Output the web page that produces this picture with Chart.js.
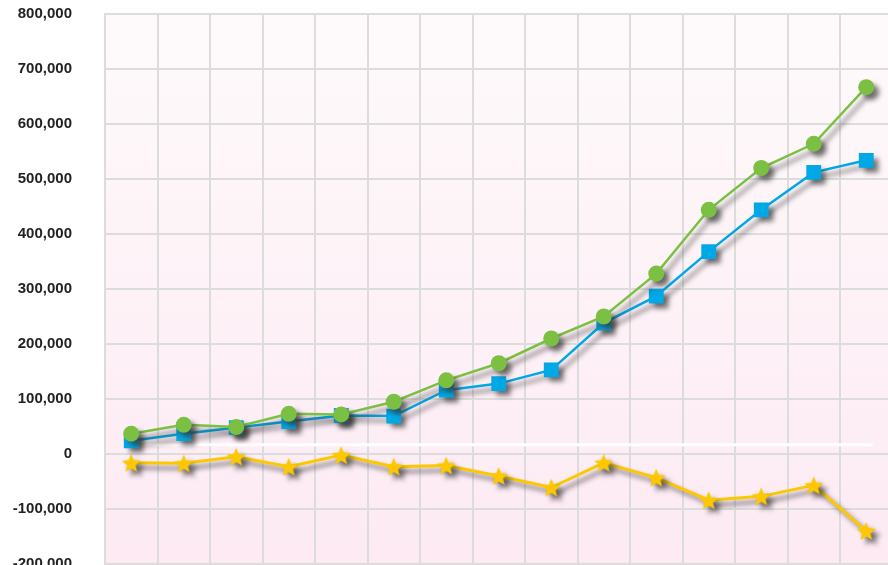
<!DOCTYPE html>
<html>
<head>
<meta charset="utf-8">
<script src="https://cdn.jsdelivr.net/npm/chart.js@4/dist/chart.umd.min.js"></script>
<style>
  html, body { margin: 0; padding: 0; background: #fff; overflow: hidden; }
  #wrap { width: 888px; height: 565px; overflow: hidden; }
</style>
</head>
<body>
<div id="wrap"><canvas id="chart" width="903" height="580"></canvas></div>
<script>
// chart data
const periods = ['1', '2', '3', '4', '5', '6', '7', '8', '9', '10', '11', '12', '13', '14', '15'];
const greenValues = [37000, 53000, 49000, 73000, 72000, 95000, 134000, 165000, 210000, 250000, 328000, 444000, 520000, 564000, 667000];
const blueValues = [24000, 37000, 48000, 59000, 70000, 69000, 116000, 128000, 153000, 238000, 287000, 368000, 444000, 512000, 534000];
const yellowValues = [-16000, -17000, -5000, -23000, -2000, -23000, -21000, -40000, -61000, -16000, -43000, -84000, -77000, -57000, -140000];
const yMin = -200000;
const yMax = 800000;
const yStep = 100000;
const whiteLineValue = 17000;

// filled five point star used as point style
function makeStar(size, color) {
    const c = document.createElement('canvas');
    c.width = size;
    c.height = size;
    const g = c.getContext('2d');
    const cx = size / 2, cy = size / 2 + 1;
    const outer = size / 2, inner = outer * 0.45;
    g.beginPath();
    for (let i = 0; i < 10; i++) {
        const r = i % 2 === 0 ? outer : inner;
        const a = -Math.PI / 2 + i * Math.PI / 5;
        const px = cx + r * Math.cos(a), py = cy + r * Math.sin(a);
        if (i === 0) g.moveTo(px, py); else g.lineTo(px, py);
    }
    g.closePath();
    g.fillStyle = color;
    g.fill();
    return c;
}

const plotBackground = {
    id: 'plotBackground',
    beforeDraw(chart) {
        const { ctx, chartArea: a } = chart;
        const grad = ctx.createLinearGradient(0, a.top, 0, a.bottom);
        grad.addColorStop(0, '#fefafb');
        grad.addColorStop(1, '#fdeaf3');
        ctx.save();
        ctx.fillStyle = grad;
        ctx.fillRect(a.left, a.top, a.right - a.left, a.bottom - a.top);
        ctx.restore();
    }
};

const whiteLine = {
    id: 'whiteLine',
    beforeDatasetsDraw(chart) {
        const { ctx, chartArea: a, scales } = chart;
        const y = scales.y.getPixelForValue(whiteLineValue);
        ctx.save();
        ctx.strokeStyle = '#ffffff';
        ctx.lineWidth = 3;
        ctx.beginPath();
        ctx.moveTo(a.left + 40, y);
        ctx.lineTo(a.right - 20, y);
        ctx.stroke();
        ctx.restore();
    }
};

// soft drop shadow under lines and markers
const dropShadow = {
    id: 'dropShadow',
    beforeDatasetsDraw(chart) {
        const ctx = chart.ctx;
        ctx.save();
        ctx.shadowColor = 'rgba(50, 50, 50, 0.65)';
        ctx.shadowBlur = 5;
        ctx.shadowOffsetX = 5;
        ctx.shadowOffsetY = 5;
    },
    afterDatasetsDraw(chart) {
        chart.ctx.restore();
    }
};

const gridColor = '#dcdcdc';

new Chart(document.getElementById('chart').getContext('2d'), {
    type: 'line',
    data: {
        labels: periods,
        datasets: [
            {
                data: greenValues,
                borderColor: '#7bc043',
                backgroundColor: '#7bc043',
                borderWidth: 2.5,
                pointStyle: 'circle',
                pointRadius: 8,
                pointBorderWidth: 0
            },
            {
                data: blueValues,
                borderColor: '#00a8e6',
                backgroundColor: '#00a8e6',
                borderWidth: 2.5,
                pointStyle: 'rect',
                pointRadius: 10.5,
                pointBorderWidth: 0
            },
            {
                data: yellowValues,
                borderColor: '#fdc800',
                backgroundColor: '#fdc800',
                borderWidth: 3,
                pointStyle: makeStar(20, '#fdc800'),
                pointRadius: 10,
                pointBorderWidth: 0
            }
        ]
    },
    options: {
        responsive: false,
        animation: false,
        layout: { padding: { top: 14, left: 0, right: 0, bottom: 16 } },
        plugins: {
            legend: { display: false },
            tooltip: { enabled: false }
        },
        scales: {
            x: {
                offset: true,
                afterFit(scale) {
                    scale.paddingLeft = 0;
                    scale.paddingRight = 0;
                },
                grid: { offset: true, color: gridColor, lineWidth: 2, drawTicks: false },
                border: { color: gridColor, width: 2 },
                ticks: { display: false }
            },
            y: {
                min: yMin,
                max: yMax,
                afterFit(scale) {
                    scale.width = 105;
                    scale.paddingTop = 9;
                    scale.paddingBottom = 9;
                },
                grid: { color: gridColor, lineWidth: 2, drawTicks: false },
                border: { color: gridColor, width: 2 },
                ticks: {
                    stepSize: yStep,
                    padding: 33,
                    color: '#222222',
                    font: { family: 'Helvetica, "Liberation Sans", Arial, sans-serif', size: 15, weight: 'bold' },
                    callback: v => v.toLocaleString('en-US')
                }
            }
        }
    },
    plugins: [plotBackground, whiteLine, dropShadow]
});
</script>
</body>
</html>
